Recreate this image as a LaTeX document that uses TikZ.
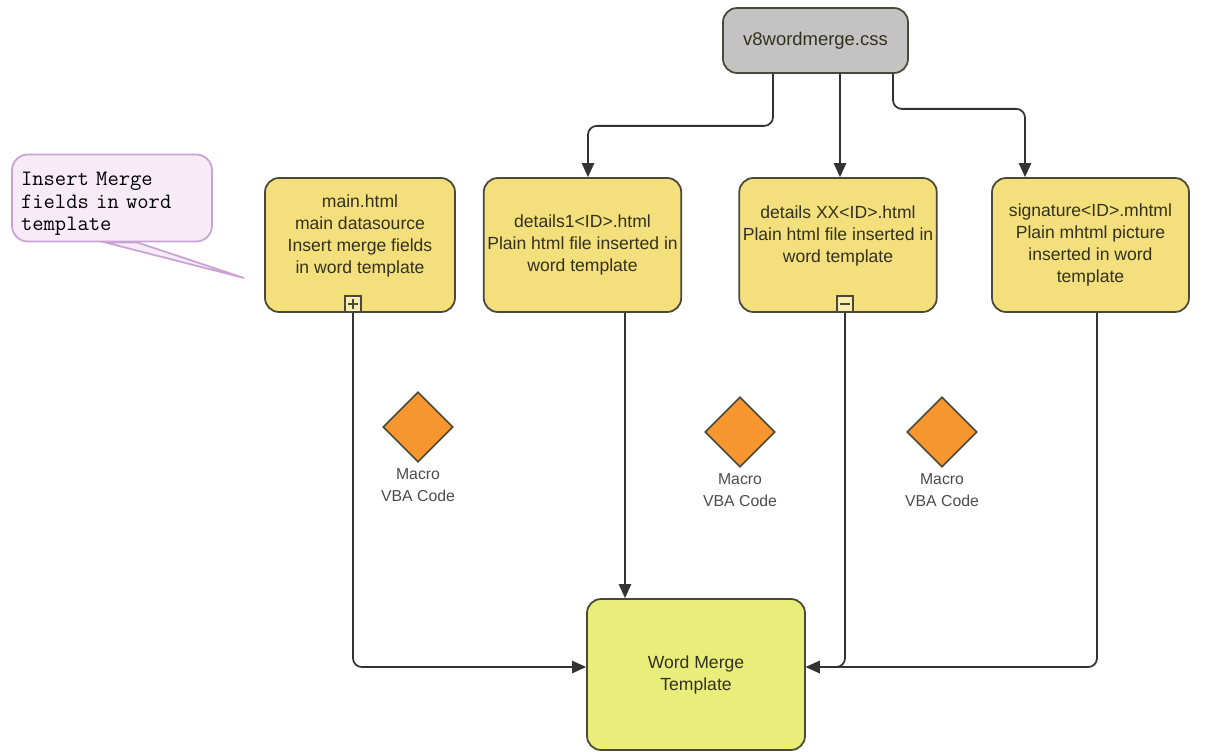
\documentclass[tikz,border=0pt]{standalone}
\usepackage{fontspec}
\setmainfont{Liberation Sans}
\usetikzlibrary{arrows.meta,shapes.geometric,positioning,backgrounds}

\definecolor{boxyellow}{HTML}{F3E07C}
\definecolor{mergeyellow}{HTML}{E9EE7B}
\definecolor{cssgray}{HTML}{C3C3C3}
\definecolor{macroorange}{HTML}{F7962F}
\definecolor{boxline}{HTML}{4A4838}
\definecolor{linkgray}{HTML}{333333}
\definecolor{inktext}{HTML}{33311E}
\definecolor{notefill}{HTML}{F8EBF8}
\definecolor{noteline}{HTML}{C9A3D3}

\begin{document}
\begin{tikzpicture}[x=0.02cm,y=-0.02cm,
	every node/.style={text=inktext,font=\fontsize{9}{12.5}\selectfont},
	filebox/.style={rectangle,rounded corners=8pt,draw=boxline,line width=1pt,fill=boxyellow,align=center,inner sep=2pt,minimum height=2.68cm,font=\fontsize{10}{12.5}\selectfont},
	macro/.style={diamond,aspect=1,draw=boxline,line width=.9pt,fill=macroorange,minimum size=1.4cm,inner sep=0pt},
	macrolabel/.style={below=3pt of #1,align=center,inner sep=0pt,text=black!70},
	marker/.style={rectangle,draw=boxline,line width=1pt,fill=boxyellow!60,minimum size=.32cm,inner sep=0pt,anchor=south},
	link/.style={draw=linkgray,line width=1pt,rounded corners=5pt,-{Triangle[length=8pt,width=7pt]}},
	note/.style={rectangle,rounded corners=9pt,draw=noteline,line width=1pt,fill=notefill,minimum width=4cm,minimum height=1.74cm},
	notetext/.style={align=left,text width=3.64cm,inner sep=0pt,text=black,font=\ttfamily\fontsize{12.5}{12.8}\selectfont}]
	\useasboundingbox (0,0) rectangle (1214,751);

	% style sheet on top
	\node[filebox,fill=cssgray,minimum width=3.7cm,minimum height=1.3cm,font=\fontsize{10.5}{12.5}\selectfont] (css) at (815.5,40.5)
		{v8wordmerge.css};

	% html sources
	\node[filebox,minimum width=3.8cm] (main) at (360,245)
		{main.html\\main datasource\\Insert merge fields\\in word template\\\mbox{}};
	\node[filebox,minimum width=3.9cm] (det1) at (582.5,245)
		{details1<ID>.html\\Plain html file inserted in\\word template};
	\node[filebox,minimum width=3.94cm] (detXX) at (838,245)
		{details XX<ID>.html\\Plain html file inserted in\\word template\\\mbox{}};
	\node[filebox,minimum width=3.94cm] (sig) at (1090.5,245)
		{signature<ID>.mhtml\\Plain mhtml picture\\inserted in word\\template};

	% expand / collapse markers
	\node[marker,path picture={\draw[boxline,line width=1pt]
		([xshift=1.5pt]path picture bounding box.west) -- ([xshift=-1.5pt]path picture bounding box.east)
		([yshift=-1.5pt]path picture bounding box.north) -- ([yshift=1.5pt]path picture bounding box.south);}]
		(plus) at ([xshift=-0.14cm]main.south) {};
	\node[marker,path picture={\draw[boxline,line width=1pt]
		([xshift=1.5pt]path picture bounding box.west) -- ([xshift=-1.5pt]path picture bounding box.east);}]
		(minus) at ([xshift=0.14cm]detXX.south) {};

	% result
	\node[filebox,fill=mergeyellow,minimum width=4.36cm,minimum height=3.02cm] (wmt) at (696,674.5)
		{Word Merge\\Template};

	% macros
	\node[macro] (m1) at (418,427) {};
	\node[macrolabel=m1] (m1l) {Macro\\VBA Code};
	\node[macro] (m2) at (740,432) {};
	\node[macrolabel=m2] (m2l) {Macro\\VBA Code};
	\node[macro] (m3) at (942,432) {};
	\node[macrolabel=m3] (m3l) {Macro\\VBA Code};

	% comment bubble
	\node[note] (hint) at (112,198) {};
	\node[notetext] (hinttext) at ([yshift=-0.12cm]hint.center)
		{Insert Merge\\fields in word\\template};
	\coordinate (tip) at ([xshift=-0.4cm,yshift=-0.66cm]main.west);
	\begin{scope}[on background layer]
		\filldraw[fill=notefill,draw=noteline,line width=1pt]
			([xshift=-0.14cm]hint.south) -- (tip) -- ([xshift=0.5cm]hint.south) -- cycle;
	\end{scope}

	% css links
	\draw[link] ([xshift=-0.85cm]css.south) -- ++(0,52) -| ([xshift=0.11cm]det1.north);
	\draw[link] ([xshift=0.49cm]css.south) -- ([xshift=0.49cm]css.south |- detXX.north);
	\draw[link] ([xshift=1.55cm]css.south) -- ++(0,35) -| ([xshift=-1.31cm]sig.north);

	% into the merge template
	\draw[link] (plus.south) |- ([yshift=0.15cm]wmt.west);
	\draw[link] ([xshift=0.85cm]det1.south) -- ([xshift=0.85cm]det1.south |- wmt.north);
	\draw[link] (minus.south) |- ([yshift=0.15cm]wmt.east);
	\draw[link] ([xshift=0.13cm]sig.south) |- ([yshift=0.15cm]wmt.east);
\end{tikzpicture}
\end{document}
